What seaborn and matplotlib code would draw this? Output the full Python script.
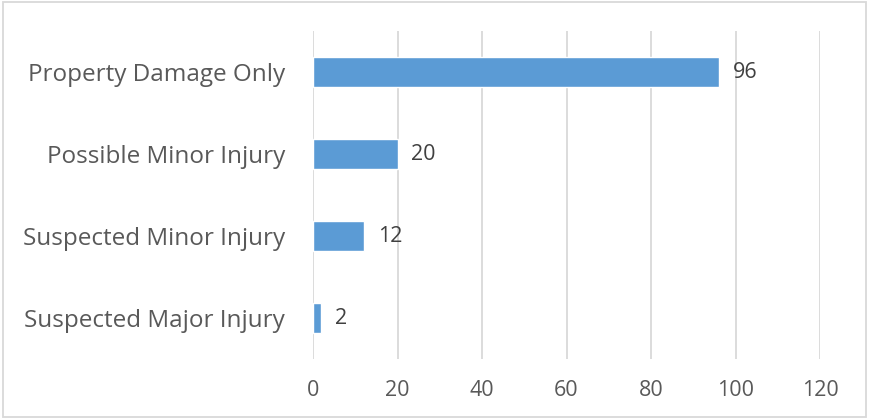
import matplotlib
matplotlib.use("Agg")
import matplotlib.pyplot as plt
import seaborn as sns
import pandas as pd
from matplotlib.patches import Rectangle

categories = ["Property Damage Only", "Possible Minor Injury",
              "Suspected Minor Injury", "Suspected Major Injury"]
counts = [96, 20, 12, 2]
xticks = [0, 20, 40, 60, 80, 100, 120]

df = pd.DataFrame({"category": categories, "count": counts})

sns.set_style("white")
plt.rcParams["font.family"] = ["Open Sans", "DejaVu Sans"]
text_col = "#595959"

fig = plt.figure(figsize=(8.69, 4.19), dpi=100)
W, H = 869, 419
ax = fig.add_axes([313 / W, 1 - 359 / H, (820 - 313) / W, (359 - 31) / H])

sns.barplot(data=df, x="count", y="category", orient="h", color="#5B9BD5",
            width=0.36, saturation=1, ax=ax)

ax.set_xlim(0, 120)
ax.set_xticks(xticks)
ax.set_xticklabels([str(t) for t in xticks])
ax.grid(axis="x", color="#D9D9D9", lw=1.3)
ax.set_axisbelow(True)
for s in ax.spines.values():
    s.set_visible(False)
ax.tick_params(axis="both", length=0, colors=text_col)
ax.tick_params(axis="x", labelsize=15.5, pad=15)
ax.tick_params(axis="y", labelsize=17.5, pad=20)
ax.set_xlabel("")
ax.set_ylabel("")

ax.bar_label(ax.containers[0], labels=[str(c) for c in counts],
             padding=10, fontsize=15.5, color="#404040")

fig.patches.append(Rectangle((3 / W, 2 / H), (866 - 3) / W, (417 - 2) / H,
                             transform=fig.transFigure, fill=False,
                             edgecolor="#D9D9D9", lw=1.3))

fig.savefig("out.png", dpi=100)
